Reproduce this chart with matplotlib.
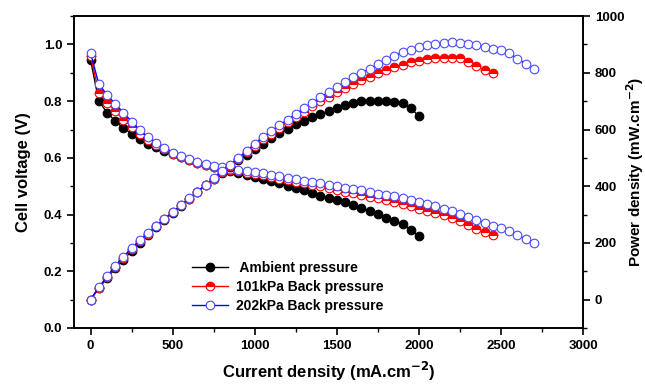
import matplotlib
matplotlib.use("Agg")
import matplotlib.pyplot as plt
from matplotlib.ticker import MultipleLocator

plt.rcParams['font.family'] = ['Liberation Sans', 'DejaVu Sans']
plt.rcParams['font.weight'] = 'bold'

# ===== data =====
labels = [" Ambient pressure", "101kPa Back pressure", "202kPa Back pressure"]

# current density, mA/cm2
i_amb = list(range(0, 2001, 50))
i_101 = list(range(0, 2451, 50))
i_202 = list(range(0, 2701, 50))

# cell voltage, V
v_amb = [0.945, 0.800, 0.760, 0.730, 0.705, 0.685, 0.667, 0.650, 0.637, 0.625,
         0.613, 0.602, 0.592, 0.583, 0.575, 0.567, 0.559, 0.552, 0.545, 0.538,
         0.531, 0.524, 0.517, 0.510, 0.502, 0.494, 0.485, 0.476, 0.467, 0.458,
         0.451, 0.443, 0.433, 0.424, 0.412, 0.401, 0.389, 0.377, 0.365, 0.347,
         0.323]
v_101 = [0.960, 0.830, 0.795, 0.765, 0.735, 0.710, 0.685, 0.663, 0.645, 0.630,
         0.615, 0.603, 0.593, 0.582, 0.575, 0.568, 0.562, 0.556, 0.552, 0.547,
         0.543, 0.538, 0.532, 0.527, 0.521, 0.516, 0.510, 0.505, 0.499, 0.493,
         0.487, 0.481, 0.475, 0.469, 0.463, 0.457, 0.450, 0.443, 0.436, 0.429,
         0.421, 0.413, 0.405, 0.397, 0.388, 0.378, 0.364, 0.350, 0.337, 0.327]
v_202 = [0.970, 0.860, 0.823, 0.790, 0.760, 0.728, 0.697, 0.672, 0.651, 0.635,
         0.618, 0.606, 0.597, 0.586, 0.578, 0.572, 0.566, 0.560, 0.556, 0.552,
         0.549, 0.545, 0.540, 0.535, 0.529, 0.524, 0.519, 0.514, 0.510, 0.505,
         0.500, 0.495, 0.490, 0.485, 0.479, 0.474, 0.469, 0.465, 0.459, 0.452,
         0.445, 0.438, 0.430, 0.421, 0.413, 0.402, 0.392, 0.382, 0.371, 0.361,
         0.352, 0.341, 0.327, 0.314, 0.301]

# power density, mW/cm2
p_amb = [0, 40, 76, 110, 141, 171, 200, 228, 255, 281,
         307, 331, 355, 379, 403, 425, 447, 469, 491, 511,
         531, 550, 569, 587, 602, 618, 631, 643, 654, 664,
         677, 687, 693, 700, 700, 702, 700, 698, 694, 677,
         646]
p_101 = [0, 42, 80, 115, 147, 178, 206, 232, 258, 284,
         308, 332, 356, 378, 403, 426, 450, 473, 497, 520,
         543, 565, 585, 606, 625, 645, 663, 682, 699, 715,
         731, 746, 760, 774, 787, 800, 810, 820, 828, 837,
         842, 847, 851, 854, 854, 851, 837, 823, 809, 801]
p_202 = [0, 43, 82, 119, 152, 182, 209, 235, 260, 286,
         309, 333, 358, 381, 405, 429, 453, 476, 500, 524,
         549, 572, 594, 615, 635, 655, 675, 694, 714, 732,
         750, 767, 784, 800, 814, 830, 844, 860, 872, 881,
         890, 898, 903, 905, 909, 905, 902, 898, 890, 884,
         880, 870, 850, 832, 813]

# ===== plot =====
fig = plt.figure(figsize=(6.45, 3.84), dpi=100)
ax = fig.add_axes([0.115, 0.146, 0.789, 0.812])
ax2 = ax.twinx()

ms = 6.2
styles = [
    dict(color='black', marker='o', mfc='black', mec='black'),
    dict(color='red', marker='o', mfc='red', mec='red', fillstyle='top', mfcalt='white'),
    dict(color='blue', marker='o', mfc='white', mec='#4a4aff'),
]
series = [(i_amb, v_amb, p_amb), (i_101, v_101, p_101), (i_202, v_202, p_202)]

handles = []
for (i, v, p), st, lab in zip(series, styles, labels):
    h, = ax.plot(i, v, lw=1.0, ms=ms, mew=0.8, label=lab, **st)
    ax2.plot(i, p, lw=1.0, ms=ms, mew=0.8, **st)
    handles.append(h)

ax.set_xlim(-100, 3000)
ax.set_ylim(0, 1.1)
ax2.set_ylim(-100, 1000)

ax.xaxis.set_major_locator(MultipleLocator(500))
ax.xaxis.set_minor_locator(MultipleLocator(250))
ax.yaxis.set_major_locator(MultipleLocator(0.2))
ax.yaxis.set_minor_locator(MultipleLocator(0.1))
ax2.yaxis.set_major_locator(MultipleLocator(200))
ax2.yaxis.set_minor_locator(MultipleLocator(100))
ax2.set_yticks([0, 200, 400, 600, 800, 1000])

for a in (ax, ax2):
    a.tick_params(which='major', direction='out', length=5, width=1.2, labelsize=9.5)
    a.tick_params(which='minor', direction='out', length=3, width=1.0)
    for s in a.spines.values():
        s.set_linewidth(1.2)

ax.set_xlabel("Current density (mA.cm$^{\\mathbf{-2}}$)", fontsize=12, fontweight='bold', labelpad=6)
ax.set_ylabel("Cell voltage (V)", fontsize=12, fontweight='bold', labelpad=9)
ax2.set_ylabel("Power density (mW.cm$^{\\mathbf{-2}}$)", fontsize=11, fontweight='bold', labelpad=0)

ax2.legend(handles, labels, loc='lower left', bbox_to_anchor=(0.22, 0.03),
           frameon=False, fontsize=10, handlelength=2.6, handletextpad=0.6,
           labelspacing=0.35, borderaxespad=0)

fig.savefig("out.png", dpi=100)
